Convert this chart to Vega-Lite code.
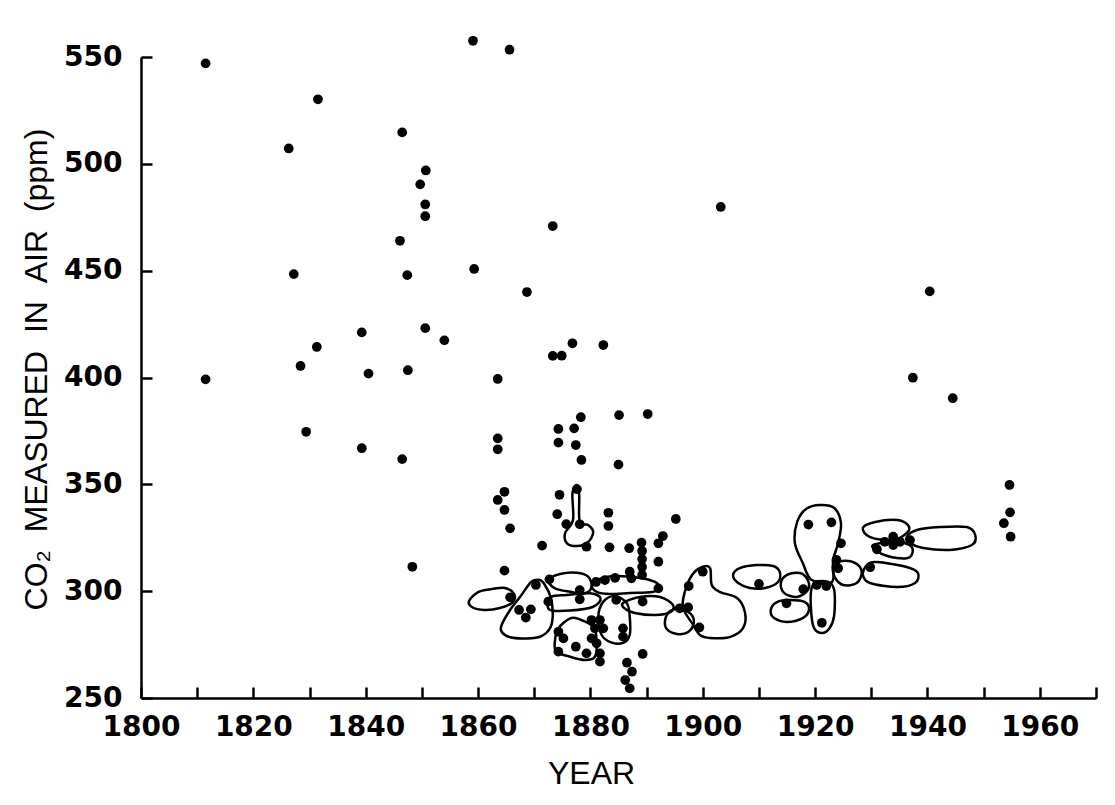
{
  "$schema": "https://vega.github.io/schema/vega-lite/v6.json",
  "width": 955,
  "height": 641,
  "autosize": {"type": "none"},
  "padding": {"left": 141, "top": 57, "right": 19, "bottom": 107},
  "background": "white",
  "config": {
    "view": {"stroke": null},
    "axis": {
      "grid": false,
      "domainColor": "black",
      "domainWidth": 2.5,
      "tickColor": "black",
      "tickWidth": 2.5,
      "labelColor": "black",
      "labelFont": "DejaVu Sans",
      "labelFontWeight": "bold",
      "titleFont": "Liberation Sans",
      "titleColor": "black",
      "titleFontWeight": "normal"
    }
  },
  "datasets": {
    "points": [
      {"year":1811.5,"ppm":547.0},{"year":1811.5,"ppm":399.1},{"year":1831.5,"ppm":530.2},{"year":1826.3,"ppm":507.2},
      {"year":1846.5,"ppm":514.7},{"year":1850.7,"ppm":496.9},{"year":1849.7,"ppm":490.4},{"year":1850.6,"ppm":481.0},
      {"year":1850.6,"ppm":475.5},{"year":1846.1,"ppm":464.0},{"year":1827.2,"ppm":448.4},{"year":1847.4,"ppm":447.9},
      {"year":1859.3,"ppm":450.8},{"year":1868.7,"ppm":440.0},{"year":1873.3,"ppm":470.9},{"year":1859.1,"ppm":557.6},
      {"year":1865.6,"ppm":553.4},{"year":1839.3,"ppm":421.1},{"year":1850.6,"ppm":423.1},{"year":1854.0,"ppm":417.4},
      {"year":1831.3,"ppm":414.3},{"year":1828.4,"ppm":405.4},{"year":1840.5,"ppm":401.8},{"year":1847.5,"ppm":403.4},
      {"year":1863.5,"ppm":399.3},{"year":1873.3,"ppm":410.1},{"year":1903.2,"ppm":479.8},{"year":1940.4,"ppm":440.3},
      {"year":1876.8,"ppm":416.0},{"year":1882.3,"ppm":415.2},{"year":1937.4,"ppm":399.9},{"year":1944.5,"ppm":390.3},
      {"year":1829.4,"ppm":374.6},{"year":1839.3,"ppm":366.9},{"year":1846.5,"ppm":361.8},{"year":1848.3,"ppm":311.4},
      {"year":1863.5,"ppm":371.5},{"year":1863.5,"ppm":366.4},{"year":1863.5,"ppm":342.7},{"year":1864.7,"ppm":346.5},
      {"year":1864.7,"ppm":338.0},{"year":1865.7,"ppm":329.4},{"year":1871.4,"ppm":321.3},{"year":1864.7,"ppm":309.6},
      {"year":1874.9,"ppm":410.2},{"year":1878.3,"ppm":381.4},{"year":1885.1,"ppm":382.4},{"year":1890.2,"ppm":382.9},
      {"year":1874.3,"ppm":375.9},{"year":1877.1,"ppm":376.2},{"year":1874.3,"ppm":369.5},{"year":1877.4,"ppm":368.4},
      {"year":1878.4,"ppm":361.4},{"year":1885.0,"ppm":359.2},{"year":1877.6,"ppm":347.7},{"year":1874.5,"ppm":345.1},
      {"year":1874.1,"ppm":336.0},{"year":1875.7,"ppm":331.4},{"year":1878.1,"ppm":331.3},{"year":1879.3,"ppm":320.8},
      {"year":1883.2,"ppm":336.7},{"year":1883.2,"ppm":330.5},{"year":1883.4,"ppm":320.5},{"year":1886.9,"ppm":320.1},
      {"year":1889.1,"ppm":322.7},{"year":1892.1,"ppm":322.4},{"year":1892.9,"ppm":325.8},{"year":1895.2,"ppm":333.8},
      {"year":1889.2,"ppm":318.8},{"year":1889.2,"ppm":315.0},{"year":1889.2,"ppm":311.3},{"year":1889.2,"ppm":307.6},
      {"year":1892.1,"ppm":313.8},{"year":1865.7,"ppm":297.1},{"year":1870.3,"ppm":302.9},{"year":1872.7,"ppm":305.5},
      {"year":1872.5,"ppm":295.1},{"year":1867.3,"ppm":291.2},{"year":1869.4,"ppm":291.5},{"year":1868.5,"ppm":287.6},
      {"year":1878.1,"ppm":300.5},{"year":1878.1,"ppm":296.2},{"year":1874.3,"ppm":281.0},{"year":1875.2,"ppm":277.9},
      {"year":1877.4,"ppm":274.0},{"year":1874.3,"ppm":271.7},{"year":1879.3,"ppm":270.9},{"year":1887.0,"ppm":309.1},
      {"year":1887.3,"ppm":306.0},{"year":1881.0,"ppm":304.3},{"year":1882.6,"ppm":305.2},{"year":1884.4,"ppm":306.2},
      {"year":1892.1,"ppm":301.3},{"year":1884.6,"ppm":295.9},{"year":1889.3,"ppm":295.1},{"year":1895.9,"ppm":292.0},
      {"year":1897.5,"ppm":302.4},{"year":1880.2,"ppm":286.5},{"year":1881.7,"ppm":286.5},{"year":1880.8,"ppm":282.6},
      {"year":1882.3,"ppm":282.6},{"year":1880.2,"ppm":277.9},{"year":1881.1,"ppm":275.6},{"year":1881.7,"ppm":270.9},
      {"year":1881.7,"ppm":267.0},{"year":1885.8,"ppm":282.6},{"year":1885.8,"ppm":278.7},{"year":1889.3,"ppm":270.6},
      {"year":1886.5,"ppm":266.5},{"year":1887.4,"ppm":262.3},{"year":1886.2,"ppm":258.4},{"year":1887.0,"ppm":254.5},
      {"year":1900.0,"ppm":309.1},{"year":1897.4,"ppm":292.4},{"year":1899.4,"ppm":283.0},{"year":1910.0,"ppm":303.4},
      {"year":1917.9,"ppm":300.9},{"year":1914.9,"ppm":294.3},{"year":1918.8,"ppm":331.2},{"year":1922.9,"ppm":332.2},
      {"year":1920.3,"ppm":302.9},{"year":1922.0,"ppm":302.4},{"year":1921.2,"ppm":285.2},{"year":1923.8,"ppm":314.6},
      {"year":1924.1,"ppm":310.7},{"year":1924.6,"ppm":322.4},{"year":1929.8,"ppm":311.2},{"year":1931.0,"ppm":319.6},
      {"year":1933.9,"ppm":325.5},{"year":1933.9,"ppm":321.6},{"year":1932.4,"ppm":323.1},{"year":1935.1,"ppm":323.1},
      {"year":1936.9,"ppm":323.9},{"year":1954.6,"ppm":349.7},{"year":1954.7,"ppm":336.9},{"year":1953.6,"ppm":331.8},
      {"year":1954.8,"ppm":325.5}
    ],
    "loops": [
      {"g":"A","i":0,"year":1858.4,"ppm":295.4},{"g":"A","i":1,"year":1860.0,"ppm":299.6},{"g":"A","i":2,"year":1862.5,"ppm":301.0},{"g":"A","i":3,"year":1864.8,"ppm":301.5},{"g":"A","i":4,"year":1866.4,"ppm":298.7},{"g":"A","i":5,"year":1866.2,"ppm":294.9},{"g":"A","i":6,"year":1863.9,"ppm":292.1},{"g":"A","i":7,"year":1861.1,"ppm":291.2},{"g":"A","i":8,"year":1858.9,"ppm":292.6},
      {"g":"B","i":0,"year":1869.5,"ppm":304.4},{"g":"B","i":1,"year":1867.5,"ppm":297.4},{"g":"B","i":2,"year":1865.7,"ppm":291.2},{"g":"B","i":3,"year":1864.2,"ppm":284.2},{"g":"B","i":4,"year":1864.2,"ppm":281.0},{"g":"B","i":5,"year":1865.7,"ppm":278.4},{"g":"B","i":6,"year":1868.7,"ppm":277.9},{"g":"B","i":7,"year":1871.3,"ppm":279.0},{"g":"B","i":8,"year":1872.9,"ppm":283.1},{"g":"B","i":9,"year":1873.3,"ppm":289.6},{"g":"B","i":10,"year":1872.9,"ppm":297.4},{"g":"B","i":11,"year":1871.9,"ppm":302.9},{"g":"B","i":12,"year":1871.0,"ppm":305.2},
      {"g":"C","i":0,"year":1872.5,"ppm":305.2},{"g":"C","i":1,"year":1874.6,"ppm":308.0},{"g":"C","i":2,"year":1877.6,"ppm":308.6},{"g":"C","i":3,"year":1879.6,"ppm":306.8},{"g":"C","i":4,"year":1880.2,"ppm":302.1},{"g":"C","i":5,"year":1879.0,"ppm":299.0},{"g":"C","i":6,"year":1876.4,"ppm":299.7},{"g":"C","i":7,"year":1873.7,"ppm":301.3},
      {"g":"D","i":0,"year":1872.5,"ppm":295.9},{"g":"D","i":1,"year":1872.8,"ppm":291.2},{"g":"D","i":2,"year":1876.4,"ppm":290.9},{"g":"D","i":3,"year":1880.5,"ppm":292.7},{"g":"D","i":4,"year":1881.8,"ppm":296.7},{"g":"D","i":5,"year":1879.9,"ppm":299.0},{"g":"D","i":6,"year":1875.8,"ppm":298.2},{"g":"D","i":7,"year":1873.4,"ppm":297.7},
      {"g":"E","i":0,"year":1876.4,"ppm":287.3},{"g":"E","i":1,"year":1874.3,"ppm":282.6},{"g":"E","i":2,"year":1873.7,"ppm":277.1},{"g":"E","i":3,"year":1873.9,"ppm":271.7},{"g":"E","i":4,"year":1876.4,"ppm":269.3},{"g":"E","i":5,"year":1879.0,"ppm":267.8},{"g":"E","i":6,"year":1880.8,"ppm":269.3},{"g":"E","i":7,"year":1881.1,"ppm":277.1},{"g":"E","i":8,"year":1880.5,"ppm":283.4},{"g":"E","i":9,"year":1878.1,"ppm":286.8},
      {"g":"F","i":0,"year":1881.4,"ppm":288.0},{"g":"F","i":1,"year":1882.3,"ppm":295.1},{"g":"F","i":2,"year":1884.4,"ppm":297.7},{"g":"F","i":3,"year":1886.5,"ppm":294.3},{"g":"F","i":4,"year":1887.0,"ppm":288.0},{"g":"F","i":5,"year":1887.0,"ppm":279.5},{"g":"F","i":6,"year":1885.9,"ppm":275.9},{"g":"F","i":7,"year":1883.8,"ppm":275.9},{"g":"F","i":8,"year":1882.0,"ppm":279.5},
      {"g":"G","i":0,"year":1880.3,"ppm":302.4},{"g":"G","i":1,"year":1881.7,"ppm":305.7},{"g":"G","i":2,"year":1884.4,"ppm":307.1},{"g":"G","i":3,"year":1888.8,"ppm":306.2},{"g":"G","i":4,"year":1891.5,"ppm":304.3},{"g":"G","i":5,"year":1892.2,"ppm":301.5},{"g":"G","i":6,"year":1891.0,"ppm":299.6},{"g":"G","i":7,"year":1887.0,"ppm":299.1},{"g":"G","i":8,"year":1883.5,"ppm":298.7},{"g":"G","i":9,"year":1881.2,"ppm":299.6},
      {"g":"H","i":0,"year":1885.8,"ppm":294.5},{"g":"H","i":1,"year":1888.8,"ppm":297.3},{"g":"H","i":2,"year":1892.4,"ppm":297.3},{"g":"H","i":3,"year":1894.7,"ppm":293.5},{"g":"H","i":4,"year":1894.2,"ppm":290.2},{"g":"H","i":5,"year":1891.5,"ppm":288.8},{"g":"H","i":6,"year":1887.9,"ppm":289.8},{"g":"H","i":7,"year":1886.2,"ppm":291.7},
      {"g":"I","i":0,"year":1893.3,"ppm":286.5},{"g":"I","i":1,"year":1894.2,"ppm":290.7},{"g":"I","i":2,"year":1895.9,"ppm":291.7},{"g":"I","i":3,"year":1897.9,"ppm":289.3},{"g":"I","i":4,"year":1898.4,"ppm":285.1},{"g":"I","i":5,"year":1897.4,"ppm":280.9},{"g":"I","i":6,"year":1895.4,"ppm":280.0},{"g":"I","i":7,"year":1893.6,"ppm":282.3},
      {"g":"J","i":0,"year":1896.5,"ppm":292.1},{"g":"J","i":1,"year":1896.8,"ppm":299.6},{"g":"J","i":2,"year":1898.1,"ppm":307.6},{"g":"J","i":3,"year":1899.9,"ppm":311.3},{"g":"J","i":4,"year":1901.3,"ppm":310.8},{"g":"J","i":5,"year":1901.6,"ppm":302.9},{"g":"J","i":6,"year":1903.1,"ppm":299.6},{"g":"J","i":7,"year":1906.1,"ppm":296.8},{"g":"J","i":8,"year":1907.5,"ppm":290.2},{"g":"J","i":9,"year":1907.2,"ppm":282.8},{"g":"J","i":10,"year":1904.8,"ppm":278.5},{"g":"J","i":11,"year":1901.3,"ppm":278.1},{"g":"J","i":12,"year":1899.5,"ppm":279.5},{"g":"J","i":13,"year":1898.3,"ppm":284.2},
      {"g":"K","i":0,"year":1905.4,"ppm":307.6},{"g":"K","i":1,"year":1906.6,"ppm":310.8},{"g":"K","i":2,"year":1909.6,"ppm":312.2},{"g":"K","i":3,"year":1912.5,"ppm":311.8},{"g":"K","i":4,"year":1913.7,"ppm":309.0},{"g":"K","i":5,"year":1913.4,"ppm":304.3},{"g":"K","i":6,"year":1911.1,"ppm":301.5},{"g":"K","i":7,"year":1908.4,"ppm":301.5},{"g":"K","i":8,"year":1906.3,"ppm":303.8},
      {"g":"L","i":0,"year":1913.9,"ppm":303.8},{"g":"L","i":1,"year":1915.0,"ppm":307.6},{"g":"L","i":2,"year":1917.3,"ppm":308.5},{"g":"L","i":3,"year":1918.7,"ppm":305.2},{"g":"L","i":4,"year":1918.7,"ppm":300.5},{"g":"L","i":5,"year":1916.8,"ppm":297.3},{"g":"L","i":6,"year":1914.5,"ppm":299.1},
      {"g":"M","i":0,"year":1912.1,"ppm":291.2},{"g":"M","i":1,"year":1913.2,"ppm":294.9},{"g":"M","i":2,"year":1915.5,"ppm":295.9},{"g":"M","i":3,"year":1918.2,"ppm":294.9},{"g":"M","i":4,"year":1918.9,"ppm":291.2},{"g":"M","i":5,"year":1917.8,"ppm":287.4},{"g":"M","i":6,"year":1915.0,"ppm":285.6},{"g":"M","i":7,"year":1912.7,"ppm":287.4},
      {"g":"N","i":0,"year":1919.3,"ppm":300.5},{"g":"N","i":1,"year":1920.2,"ppm":304.3},{"g":"N","i":2,"year":1922.3,"ppm":304.3},{"g":"N","i":3,"year":1923.4,"ppm":300.5},{"g":"N","i":4,"year":1923.4,"ppm":288.8},{"g":"N","i":5,"year":1922.6,"ppm":282.8},{"g":"N","i":6,"year":1921.2,"ppm":280.4},{"g":"N","i":7,"year":1919.8,"ppm":282.8},{"g":"N","i":8,"year":1919.3,"ppm":290.2},
      {"g":"O","i":0,"year":1920.9,"ppm":340.3},{"g":"O","i":1,"year":1918.4,"ppm":338.5},{"g":"O","i":2,"year":1916.8,"ppm":332.4},{"g":"O","i":3,"year":1916.4,"ppm":322.5},{"g":"O","i":4,"year":1917.8,"ppm":313.2},{"g":"O","i":5,"year":1919.4,"ppm":305.2},{"g":"O","i":6,"year":1923.0,"ppm":304.3},{"g":"O","i":7,"year":1923.2,"ppm":314.6},{"g":"O","i":8,"year":1924.1,"ppm":322.5},{"g":"O","i":9,"year":1924.6,"ppm":331.9},{"g":"O","i":10,"year":1923.4,"ppm":338.9},
      {"g":"P","i":0,"year":1923.2,"ppm":312.2},{"g":"P","i":1,"year":1924.8,"ppm":314.1},{"g":"P","i":2,"year":1927.1,"ppm":313.2},{"g":"P","i":3,"year":1928.3,"ppm":309.0},{"g":"P","i":4,"year":1927.4,"ppm":303.8},{"g":"P","i":5,"year":1925.0,"ppm":302.9},{"g":"P","i":6,"year":1923.5,"ppm":306.6},
      {"g":"Q","i":0,"year":1928.5,"ppm":307.6},{"g":"Q","i":1,"year":1929.2,"ppm":312.2},{"g":"Q","i":2,"year":1931.0,"ppm":313.6},{"g":"Q","i":3,"year":1936.3,"ppm":311.3},{"g":"Q","i":4,"year":1938.3,"ppm":308.5},{"g":"Q","i":5,"year":1937.8,"ppm":303.8},{"g":"Q","i":6,"year":1934.6,"ppm":301.9},{"g":"Q","i":7,"year":1929.8,"ppm":303.8},
      {"g":"R","i":0,"year":1928.5,"ppm":329.6},{"g":"R","i":1,"year":1930.7,"ppm":332.4},{"g":"R","i":2,"year":1934.6,"ppm":333.3},{"g":"R","i":3,"year":1936.5,"ppm":331.0},{"g":"R","i":4,"year":1936.5,"ppm":327.7},{"g":"R","i":5,"year":1933.9,"ppm":323.9},{"g":"R","i":6,"year":1929.8,"ppm":325.3},
      {"g":"S","i":0,"year":1930.3,"ppm":321.6},{"g":"S","i":1,"year":1931.5,"ppm":317.9},{"g":"S","i":2,"year":1934.6,"ppm":315.5},{"g":"S","i":3,"year":1936.9,"ppm":316.0},{"g":"S","i":4,"year":1937.2,"ppm":320.7},{"g":"S","i":5,"year":1934.6,"ppm":323.0},
      {"g":"T","i":0,"year":1936.3,"ppm":325.3},{"g":"T","i":1,"year":1938.1,"ppm":328.6},{"g":"T","i":2,"year":1942.2,"ppm":330.0},{"g":"T","i":3,"year":1947.0,"ppm":330.0},{"g":"T","i":4,"year":1948.5,"ppm":326.3},{"g":"T","i":5,"year":1947.9,"ppm":321.6},{"g":"T","i":6,"year":1944.0,"ppm":319.3},{"g":"T","i":7,"year":1939.2,"ppm":320.2},{"g":"T","i":8,"year":1936.9,"ppm":322.5},
      {"g":"U","i":0,"year":1877.6,"ppm":349.7},{"g":"U","i":1,"year":1876.8,"ppm":345.9},{"g":"U","i":2,"year":1876.9,"ppm":333.3},{"g":"U","i":3,"year":1875.5,"ppm":327.2},{"g":"U","i":4,"year":1875.8,"ppm":322.5},{"g":"U","i":5,"year":1877.6,"ppm":321.1},{"g":"U","i":6,"year":1879.6,"ppm":323.0},{"g":"U","i":7,"year":1880.5,"ppm":327.7},{"g":"U","i":8,"year":1879.6,"ppm":331.0},{"g":"U","i":9,"year":1878.1,"ppm":332.4},{"g":"U","i":10,"year":1878.0,"ppm":345.0}
    ]
  },
  "encoding": {
    "x": {
      "field": "year", "type": "quantitative",
      "scale": {"domain": [1800, 1970], "nice": false, "zero": false},
      "axis": {
        "title": "YEAR",
        "values": [1800,1810,1820,1830,1840,1850,1860,1870,1880,1890,1900,1910,1920,1930,1940,1950,1960,1970],
        "labelExpr": "datum.value % 20 == 0 ? datum.value : ''",
        "tickSize": -11,
        "labelPadding": 26,
        "labelFontSize": 28,
        "labelBaseline": "top",
        "labelFlush": false,
        "titleFontSize": 32,
        "titleX": 450,
        "titleY": 85,
        "titleBaseline": "alphabetic",
        "titleAlign": "center"
      }
    },
    "y": {
      "field": "ppm", "type": "quantitative",
      "scale": {"domain": [250, 550], "nice": false, "zero": false},
      "axis": {
        "title": "CO₂\u00a0\u00a0MEASURED\u00a0\u00a0IN\u00a0\u00a0AIR\u00a0\u00a0(ppm)",
        "values": [250,300,350,400,450,500,550],
        "tickSize": -11,
        "labelPadding": 30,
        "labelFontSize": 28,
        "labelFlush": false,
        "titleFontSize": 32,
        "titleX": -105,
        "titleY": 312,
        "titleAngle": -90,
        "titleAlign": "center",
        "titleBaseline": "middle"
      }
    }
  },
  "layer": [
    {
      "data": {"name": "loops"},
      "mark": {"type": "line", "interpolate": "cardinal-closed", "stroke": "black", "strokeWidth": 2.5, "clip": false},
      "encoding": {
        "detail": {"field": "g", "type": "nominal"},
        "order": {"field": "i", "type": "quantitative"}
      }
    },
    {
      "data": {"name": "points"},
      "mark": {"type": "circle", "color": "black", "opacity": 1, "size": 95, "clip": false}
    }
  ]
}
